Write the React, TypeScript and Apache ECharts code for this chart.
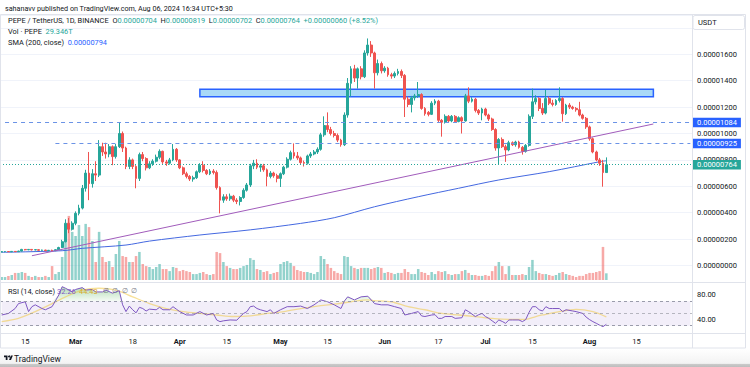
import React, { useEffect, useRef } from "react";
import * as echarts from "echarts";

const FONT = "Roboto, 'Noto Sans', sans-serif";
const FIRST_DAY = "2024-02-08";
const AXIS_DAYS = 206; // Feb 8 .. Sep 1 (right empty margin)

// Daily candles, prices in micro-USDT (x 1e-6): [open, close, low, high]
const candles: number[][] = [
  // Feb 8 - Feb 17
  [1.02,1.05,1.00,1.07],[1.05,1.06,1.03,1.09],[1.06,1.04,1.02,1.08],[1.04,1.07,1.03,1.09],[1.07,1.05,1.03,1.10],
  [1.05,1.09,1.04,1.12],[1.09,1.22,1.07,1.26],[1.22,1.19,1.15,1.25],[1.19,1.22,1.16,1.25],[1.22,1.18,1.14,1.24],
  [1.18,1.20,1.15,1.23],[1.20,1.15,1.12,1.22],[1.15,1.17,1.12,1.20],[1.17,1.12,1.09,1.19],[1.12,1.15,1.10,1.18],
  [1.15,1.12,1.08,1.20],[1.12,1.20,1.10,1.24],[1.20,1.36,1.18,1.42],[1.36,1.80,1.32,1.95],[1.80,3.20,1.75,3.50],
  [3.20,2.75,2.45,3.60],[2.75,3.20,2.65,3.35],
  // Mar
  [3.20,3.95,3.05,4.10],[3.95,4.35,3.80,4.60],[4.35,5.85,4.25,6.10],
  [5.85,7.00,5.60,7.25],[7.00,6.20,4.95,8.60],[6.20,6.95,5.90,7.30],[6.95,6.85,6.40,7.90],[6.85,9.00,6.70,9.50],
  [9.00,8.60,8.30,9.30],[8.60,8.45,8.10,9.30],[8.45,9.00,8.20,9.20],[9.00,8.25,7.60,9.10],[8.25,9.00,8.10,9.20],
  [9.00,10.00,8.90,10.84],[10.00,8.90,8.60,10.15],[8.90,7.50,7.30,9.00],[7.50,8.00,7.30,8.20],[8.00,7.50,7.30,8.10],
  [7.50,6.60,5.85,7.60],[6.60,8.40,6.40,8.55],[8.40,8.10,7.90,8.60],[8.10,7.40,7.20,8.20],[7.40,7.70,7.30,7.90],
  [7.70,7.90,7.55,8.05],[7.90,8.20,7.80,8.40],[8.20,8.65,8.05,8.80],[8.65,7.85,7.70,8.70],[7.85,7.75,7.55,8.00],
  [7.75,8.00,7.65,8.15],[8.00,8.80,7.90,9.20],[8.80,8.00,7.85,8.90],
  // Apr
  [8.00,7.40,7.30,8.05],[7.40,6.95,6.85,7.50],
  [6.95,6.75,6.60,7.10],[6.75,6.55,6.40,6.85],[6.55,6.65,6.35,6.80],[6.65,7.10,6.55,7.20],[7.10,7.60,7.00,7.75],
  [7.60,7.20,7.05,7.90],[7.20,6.95,6.85,7.30],[6.95,7.15,6.85,7.30],[7.15,7.05,6.90,7.30],[7.05,5.90,5.75,7.20],
  [5.90,4.95,3.95,6.00],[4.95,5.20,4.75,5.40],[5.20,5.05,4.90,5.40],[5.05,5.25,4.90,5.45],[5.25,4.95,4.80,5.35],
  [4.95,4.85,4.65,5.10],[4.85,5.15,4.55,5.25],[5.15,5.70,5.05,5.85],[5.70,6.10,5.60,6.25],[6.10,7.55,5.95,7.70],
  [7.55,7.75,7.30,8.00],[7.75,7.45,7.30,8.05],[7.45,7.55,7.10,7.70],[7.55,7.25,7.10,7.70],[7.25,6.75,6.00,7.35],
  [6.75,7.00,6.60,7.15],[7.00,6.80,6.65,7.10],[6.80,6.60,6.30,6.95],
  // May
  [6.60,6.95,5.95,7.05],[6.95,7.45,6.85,7.55],
  [7.45,8.05,7.35,8.20],[8.05,8.55,7.95,8.70],[8.55,8.30,8.10,9.25],[8.30,8.15,8.00,8.60],[8.15,7.80,7.65,8.25],
  [7.80,7.75,7.50,7.95],[7.75,8.30,7.65,8.40],[8.30,8.45,8.15,8.60],[8.45,8.60,8.35,8.75],[8.60,8.80,8.45,8.95],
  [8.80,9.90,8.70,10.05],[9.90,10.60,9.75,11.30],[10.60,10.30,10.10,11.60],[10.30,10.00,9.85,10.50],[10.00,9.85,9.70,10.20],
  [9.85,9.50,9.35,10.00],[9.50,9.15,9.00,9.60],[9.15,11.40,9.05,11.60],[11.40,13.80,11.20,14.20],[13.80,14.90,12.80,15.10],
  [14.90,14.20,13.90,15.20],[14.20,14.90,13.40,15.00],[14.90,14.30,14.10,15.10],[14.30,16.10,14.20,16.30],[16.10,16.70,15.90,17.20],
  [16.70,16.10,15.80,17.00],[16.10,14.60,13.40,16.20],[14.60,15.30,14.40,15.60],[15.30,14.75,14.55,15.45],
  // Jun
  [14.75,14.95,14.60,15.10],
  [14.95,14.45,14.30,15.05],[14.45,14.35,14.15,14.60],[14.35,14.55,14.20,14.70],[14.55,14.70,14.40,14.90],[14.70,14.40,14.20,14.85],
  [14.40,12.60,11.25,14.50],[12.60,12.20,12.00,12.80],[12.20,12.70,11.60,12.85],[12.70,12.85,12.50,13.00],[12.85,12.95,12.70,13.90],
  [12.95,11.90,11.80,13.05],[11.90,11.50,11.35,12.00],[11.60,11.45,11.30,11.70],[11.45,12.30,11.40,12.45],[12.30,12.45,12.15,12.60],
  [12.45,11.00,10.85,12.55],[11.00,10.85,9.76,11.10],[10.85,11.30,10.75,11.45],[11.30,10.95,10.85,11.40],[10.95,11.30,10.85,11.40],
  [11.30,10.90,10.80,11.40],[10.90,11.20,10.85,11.30],[11.20,10.95,10.00,11.30],[10.95,12.85,10.90,13.00],[12.85,12.45,12.30,13.50],
  [12.45,12.60,12.35,12.75],[12.60,11.75,11.60,12.70],[11.75,11.55,11.40,11.85],[11.55,11.85,11.00,11.95],
  // Jul
  [11.85,11.40,11.30,11.95],
  [11.40,11.10,10.95,11.50],[11.10,10.30,10.20,11.20],[10.30,8.90,8.70,10.40],[8.90,9.55,7.65,9.65],[9.55,9.00,8.90,9.70],
  [9.00,8.75,7.85,9.15],[8.75,9.30,8.65,9.45],[9.30,9.15,9.05,9.40],[9.15,9.35,9.00,9.45],[9.35,8.95,8.85,9.45],
  [8.95,8.65,8.40,9.05],[8.65,9.10,8.55,9.20],[9.10,11.30,9.00,11.45],[11.30,12.40,11.10,13.40],[12.40,12.65,12.20,12.90],
  [12.65,11.90,11.70,12.75],[11.90,11.55,11.40,12.30],[11.55,12.65,11.45,13.30],[12.65,12.30,12.15,12.80],[12.30,12.20,12.05,12.55],
  [12.20,12.50,12.10,12.60],[12.50,12.65,12.35,13.50],[12.65,11.50,10.90,12.75],[11.50,12.15,11.40,12.25],[12.15,12.00,11.85,12.30],
  [12.00,11.90,11.80,12.10],[11.90,11.80,11.65,12.00],[11.80,11.40,11.30,12.40],[11.40,11.15,11.05,11.50],[11.15,10.50,10.35,11.25],
  // Aug
  [10.50,9.60,9.45,10.60],[9.60,8.60,8.50,9.70],[8.60,8.00,7.90,8.70],[8.00,7.75,7.55,8.15],[7.75,7.04,5.97,8.00],
  [7.04,7.64,7.02,8.19],
];

// Daily volume in trillions of PEPE
const volumesT: number[] = [
  13,13,18,22,31,31,35,31,18,13, 18,13,13,18,13,61,26,35,101,171,
  281,211,193,241,193,246,232,171,79,211, 101,79,83,57,114,171,105,101,79,79,
  105,123,70,61,57,48,57,70,48,48, 39,57,53,39,44,39,35,26,26,31,
  35,26,22,26,123,118,79,61,53,48, 48,53,61,66,96,88,48,44,35,39,
  26,31,35,70,79,83,75,61,44,39, 35,35,31,26,35,105,92,70,53,39,
  31,26,105,101,61,53,48,53,53,53, 48,53,57,53,31,35,31,26,31,31,
  48,35,26,26,48,35,31,22,35,26, 39,35,39,26,22,26,26,39,44,31,
  22,22,18,18,22,18,39,61,79,61, 26,61,22,22,22,26,22,57,88,39,
  31,26,26,22,18,22,31,35,26,22, 18,13,18,18,26,31,31,35,39,145,
  29.346,
];

// SMA(200) read at points: [day offset from Feb 8, micro-USDT]
const sma200Points: number[][] = [
  [0,1.00],[18,1.12],[24,1.30],[37,1.55],[44,1.85],[59,2.31],[74,2.70],[89,3.19],[99,3.62],
  [111,4.45],[124,5.21],[136,5.85],[148,6.48],[163,7.11],[178,7.86],[180,7.94],
];

// RSI(14) read at points: [day offset, value]
const rsiPoints: number[][] = [
  [0,47.5],[2,50],[4,58],[5,66],[7,69],[8,53],[9,61],[10,64],[12,58],[13,56],[15,61],[17,80],[18,93.5],[19,91],
  [21,85],[22,89],[24,92],[25,88],[27,89],[28,85],[30,85],[31,88],[33,83],[34,85],[35,87],[36,64],[37,53],[38,62],
  [39,56],[40,51],[41,60],[42,58],[43,54],[44,57],[46,56],[47,60],[48,56],[50,56],[51,61],[52,57],[53,53],[55,47.5],
  [57,47.5],[59,53],[61,47.5],[63,50],[64,39.4],[65,36.7],[66,38],[68,39.4],[70,39],[71,45],[72,50],[73,53],[74,61],
  [75,62],[76,58],[77,56],[79,53],[80,56],[81,50],[83,56],[85,61],[87,61],[89,62],[91,58],[93,64],[95,72],[97,69],
  [99,64],[101,58],[102,70],[103,77],[105,72],[107,77],[109,78],[111,66],[113,64],[115,64],[117,61],[119,58],
  [120,47.5],[122,50],[124,53],[125,46],[126,45],[128,47.5],[129,48],[130,42],[131,42],[132,45],[134,45],[135,42],
  [137,43],[138,56],[139,53],[141,45],[142,48],[143,50],[144,45],[145,42],[146,38],[147,34],[148,39.4],[149,37],
  [150,34],[151,39.4],[152,39.4],[154,39.4],[155,36.7],[156,40],[157,52],[158,61],[159,61],[160,56],[161,54],
  [162,61],[163,58],[164,58],[166,58],[167,53],[168,56],[170,54],[171,53],[173,50],[174,44],[175,40],[176,36.7],
  [177,34],[178,31],[179,28.6],[180,32.26],
];

// RSI-based MA read at points: [day offset, value]
const rsiMaPoints: number[][] = [
  [0,36.7],[5,42],[10,53],[15,66],[19,77],[24,88],[29,91],[34,88],[39,77],[44,66],[49,58],[54,53],[59,50],
  [64,47.5],[69,45],[74,46],[79,50],[84,53],[89,58],[94,62],[99,65],[104,69],[109,72],[111,71],[116,69],
  [121,61],[126,56],[131,50],[136,47.5],[141,45],[146,42],[151,40.5],[156,40.5],[159,45],[161,47.5],
  [166,53],[171,56.7],[176,53],[180,44.43],
];

const priceTicks = [0, 2, 4, 6, 8, 10, 12, 14, 16];
const rsiTicks = [40, 80];
const rsiBands = [70, 50, 30];
const timeTicks = ["2024-02-15","2024-03-01","2024-03-18","2024-04-01","2024-04-15","2024-05-01","2024-05-15",
  "2024-06-01","2024-06-17","2024-07-01","2024-07-15","2024-08-01","2024-08-15"];
const timeTickLabels = ["15","Mar","18","Apr","15","May","15","Jun","17","Jul","15","Aug","15"];

// Drawings
const levelHigh = { value: 10.84, fromDay: 1 };
const levelMid = { value: 9.25, fromDay: 16 };
const zone = { fromDay: 59, toDay: 194, low: 12.79, high: 13.35 };
const trend = { fromDay: 9, fromValue: 0.74, toDay: 194, toValue: 10.72 };

const PRICE_MIN = -1.25;
const PRICE_MAX = 18.977;
const RSI_MIN = 18.21;
const RSI_MAX = 99.51;

const UP = "#26a69a";
const DOWN = "#ef5350";
const INK = "#131722";
const CLEAR = "rgba(0,0,0,0)";
const FS = 7.4;

echarts.graphic.registerShape(
  "tvLogo",
  echarts.graphic.extendPath("M14 22H7V11H0V4h14v18z M28 22h-8l7.5-18h8L28 22z", {})
);

function buildDays(start: string, n: number): string[] {
  const base = new Date(start + "T00:00:00Z").getTime();
  const out: string[] = [];
  for (let i = 0; i < n; i++) out.push(new Date(base + i * 86400000).toISOString().slice(0, 10));
  return out;
}

const fmtP = (v: number) => (v * 1e-6).toFixed(8);

export default function App() {
  const ref = useRef<HTMLDivElement>(null);
  useEffect(() => {
    document.body.style.margin = "0";
    if (!ref.current) return;
    const chart = echarts.init(ref.current, undefined, { renderer: "svg" });
    const days = buildDays(FIRST_DAY, AXIS_DAYS);
    const lastDay = days[AXIS_DAYS - 1];
    const last = candles[candles.length - 1];
    const prev = candles[candles.length - 2];
    const chg = last[1] - prev[1];
    const pct = (chg / prev[1]) * 100;

    const tag = (bg: string, v: number) => ({
      show: true,
      position: "end",
      distance: 1,
      formatter: fmtP(v),
      backgroundColor: bg,
      color: "#fff",
      fontSize: 7.5,
      fontFamily: FONT,
      lineHeight: 8,
      padding: [1, 4, 0.5, 4],
    });

    const tickSet = new Set(timeTicks);
    const txt = (size: number, fill: string, extra: any = {}) => ({ fontSize: size, fontFamily: FONT, fill, color: fill, ...extra });

    const rsiLast = rsiPoints[rsiPoints.length - 1][1].toFixed(2);
    const maLast = rsiMaPoints[rsiMaPoints.length - 1][1].toFixed(2);

    const option: any = {
      animation: false,
      textStyle: { fontFamily: FONT },
      grid: [
        { left: 0, right: 58, top: 15, height: 267 },
        { left: 0, right: 58, top: 150, height: 130 },
        { left: 0, right: 58, top: 283, height: 50 },
      ],
      xAxis: [0, 1, 2].map((g) => ({
        type: "category",
        gridIndex: g,
        data: days,
        boundaryGap: true,
        axisLine: { show: false },
        axisTick: { show: false },
        splitLine: { show: false },
        axisLabel:
          g === 2
            ? {
                show: true,
                margin: 4,
                fontSize: 7.5,
                color: INK,
                interval: (_i: number, v: string) => tickSet.has(v),
                formatter: (v: string) => {
                  const k = timeTicks.indexOf(v);
                  if (k < 0) return "";
                  const t = timeTickLabels[k];
                  return /^\d+$/.test(t) ? t : `{b|${t}}`;
                },
                rich: { b: { fontWeight: "bold", fontSize: 7.5, color: INK, fontFamily: FONT } },
              }
            : { show: false },
      })),
      yAxis: [
        {
          type: "value",
          gridIndex: 0,
          position: "right",
          min: PRICE_MIN,
          max: PRICE_MAX,
          splitNumber: 10,
          axisLine: { show: false },
          axisTick: { show: false },
          axisLabel: {
            margin: 5,
            fontSize: 7.5,
            color: INK,
            formatter: (v: number) => {
              const r = Math.round(v);
              return Math.abs(v - r) < 1e-6 && priceTicks.includes(r) ? fmtP(r) : "";
            },
          },
          splitLine: { lineStyle: { color: "#f0f3fa", width: 1 } },
        },
        { type: "value", gridIndex: 1, min: 0, max: 570, show: false, splitLine: { show: false } },
        {
          type: "value",
          gridIndex: 2,
          position: "right",
          min: RSI_MIN,
          max: RSI_MAX,
          splitNumber: 4,
          axisLine: { show: false },
          axisTick: { show: false },
          splitLine: { show: false },
          axisLabel: {
            margin: 5,
            fontSize: 7.5,
            color: INK,
            formatter: (v: number) => {
              const r = Math.round(v);
              return Math.abs(v - r) < 1e-6 && rsiTicks.includes(r) ? r.toFixed(2) : "";
            },
          },
        },
      ],
      series: [
        {
          type: "bar",
          xAxisIndex: 1,
          yAxisIndex: 1,
          barWidth: "75%",
          z: 1,
          data: volumesT.map((v, i) => ({
            value: v,
            itemStyle: { color: candles[i][1] >= candles[i][0] ? "rgba(38,166,154,0.5)" : "rgba(239,83,80,0.5)" },
          })),
        },
        {
          type: "line",
          xAxisIndex: 0,
          yAxisIndex: 0,
          showSymbol: false,
          smooth: 0.3,
          z: 3,
          lineStyle: { color: "#4468e0", width: 1 },
          data: sma200Points.map(([d, v]) => [days[d], v]),
        },
        {
          type: "candlestick",
          xAxisIndex: 0,
          yAxisIndex: 0,
          barWidth: "70%",
          z: 4,
          itemStyle: { color: UP, color0: DOWN, borderColor: UP, borderColor0: DOWN, borderWidth: 1 },
          data: candles.map((c) => [c[0], c[1], c[2], c[3]]),
          markArea: {
            silent: true,
            itemStyle: { color: "rgba(41,160,235,0.40)", borderColor: "#2962ff", borderWidth: 1.5 },
            data: [[{ xAxis: days[zone.fromDay], yAxis: zone.high }, { xAxis: days[zone.toDay], yAxis: zone.low }]],
          },
          markLine: {
            silent: true,
            symbol: ["none", "none"],
            animation: false,
            data: [
              [
                { coord: [days[trend.fromDay], trend.fromValue], lineStyle: { color: "#a15cbb", width: 1, type: "solid" }, label: { show: false } },
                { coord: [days[trend.toDay], trend.toValue] },
              ],
              [
                { coord: [days[levelHigh.fromDay], levelHigh.value], lineStyle: { color: "#6b93e6", width: 1, type: [4, 4] }, label: { show: false } },
                { coord: [lastDay, levelHigh.value] },
              ],
              [
                { coord: [days[levelMid.fromDay], levelMid.value], lineStyle: { color: "#6b93e6", width: 1, type: [4, 4] }, label: { show: false } },
                { coord: [lastDay, levelMid.value] },
              ],
              { yAxis: levelHigh.value, lineStyle: { color: CLEAR, width: 1 }, label: tag("#2962ff", levelHigh.value) },
              { yAxis: levelMid.value, lineStyle: { color: CLEAR, width: 1 }, label: tag("#2962ff", levelMid.value) },
              { yAxis: last[1], lineStyle: { color: UP, width: 1, type: [1, 2] }, label: tag(UP, last[1]) },
            ],
          },
        },
        {
          type: "line",
          xAxisIndex: 2,
          yAxisIndex: 2,
          showSymbol: false,
          z: 2,
          lineStyle: { width: 0 },
          areaStyle: {
            origin: 70,
            color: new echarts.graphic.LinearGradient(0, 0, 0, 1, [
              { offset: 0, color: "rgba(76,175,80,0.6)" },
              { offset: 1, color: "rgba(76,175,80,0.08)" },
            ]),
          },
          data: rsiPoints.map(([d, v]) => [days[d], Math.max(v, 70)]),
        },
        {
          type: "line",
          xAxisIndex: 2,
          yAxisIndex: 2,
          showSymbol: false,
          z: 3,
          smooth: 0.3,
          lineStyle: { color: "rgba(240,200,70,0.55)", width: 1.3 },
          data: rsiMaPoints.map(([d, v]) => [days[d], v]),
        },
        {
          type: "line",
          xAxisIndex: 2,
          yAxisIndex: 2,
          showSymbol: false,
          z: 4,
          lineStyle: { color: "#7e57c2", width: 1 },
          data: rsiPoints.map(([d, v]) => [days[d], v]),
          markArea: {
            silent: true,
            itemStyle: { color: "rgba(126,87,194,0.1)" },
            data: [[{ xAxis: days[0], yAxis: rsiBands[2] }, { xAxis: lastDay, yAxis: rsiBands[0] }]],
          },
          markLine: {
            silent: true,
            symbol: ["none", "none"],
            label: { show: false },
            data: rsiBands.map((b) => ({
              yAxis: b,
              lineStyle: { color: b === 50 ? "rgba(120,123,134,0.5)" : "#9a9cab", width: 1, type: [3, 3] },
            })),
          },
        },
      ],
      graphic: [
        { type: "rect", z: 50, silent: true, shape: { x: 0.5, y: 14.5, width: 745, height: 333.5 }, style: { fill: "none", stroke: "#e0e3eb", lineWidth: 1 } },
        { type: "line", z: 50, silent: true, shape: { x1: 0, y1: 282.5, x2: 745, y2: 282.5 }, style: { stroke: "#e0e3eb", lineWidth: 1 } },
        { type: "line", z: 50, silent: true, shape: { x1: 0, y1: 333.5, x2: 745, y2: 333.5 }, style: { stroke: "#e0e3eb", lineWidth: 1 } },
        { type: "line", z: 50, silent: true, shape: { x1: 692.5, y1: 14, x2: 692.5, y2: 348 }, style: { stroke: "#e0e3eb", lineWidth: 1 } },
        { type: "rect", z: 51, silent: true, shape: { x: 693, y: 15.5, width: 51.5, height: 14, r: 2 }, style: { fill: "#fff", stroke: "#e0e3eb", lineWidth: 1 } },
        { type: "text", z: 52, silent: true, style: { text: "USDT", x: 698, y: 22.5, verticalAlign: "middle", ...txt(7.5, INK) } },
        {
          type: "text", z: 52, silent: true,
          style: { text: "sahanavv published on TradingView.com, Aug 06, 2024 16:34 UTC+5:30", x: 5, y: 8.5, verticalAlign: "middle", ...txt(7.2, INK) },
        },
        {
          type: "text", z: 52, silent: true,
          style: {
            x: 8, y: 20.5, verticalAlign: "middle", ...txt(FS, INK),
            text: `{d|PEPE / TetherUS, 1D, BINANCE}  {d|O}{g|${fmtP(last[0])}}  {d|H}{g|${fmtP(last[3])}}  {d|L}{g|${fmtP(last[2])}}  {d|C}{g|${fmtP(last[1])}}  {g|${chg >= 0 ? "+" : ""}${fmtP(chg)} (${chg >= 0 ? "+" : ""}${pct.toFixed(2)}%)}`,
            rich: { d: txt(FS, INK), g: txt(FS, UP) },
          },
        },
        {
          type: "text", z: 52, silent: true,
          style: {
            x: 8, y: 31.5, verticalAlign: "middle", ...txt(FS, INK),
            text: `{d|Vol · PEPE}  {g|${volumesT[volumesT.length - 1].toFixed(3)}T}`,
            rich: { d: txt(FS, INK), g: txt(FS, UP) },
          },
        },
        {
          type: "text", z: 52, silent: true,
          style: {
            x: 8, y: 42.5, verticalAlign: "middle", ...txt(FS, INK),
            text: `{d|SMA (200, close)}  {b|${fmtP(sma200Points[sma200Points.length - 1][1])}}`,
            rich: { d: txt(FS, INK), b: txt(FS, "#2962ff") },
          },
        },
        { type: "text", z: 60, silent: true, style: { text: "RSI (14, close)", x: 8, y: 291, verticalAlign: "middle", ...txt(FS, INK) } },
        { type: "text", z: 60, silent: true, style: { text: rsiLast, x: 57, y: 291, verticalAlign: "middle", ...txt(FS, "#7e57c2") } },
        { type: "text", z: 60, silent: true, style: { text: maLast, x: 79, y: 291, verticalAlign: "middle", ...txt(FS, "#d9a92a") } },
        { type: "text", z: 60, silent: true, style: { text: "∅  ∅  ∅  ∅", x: 103, y: 291, verticalAlign: "middle", ...txt(7, "#787b86") } },
        { type: "tvLogo", z: 52, silent: true, x: 4, y: 354.5, scaleX: 0.25, scaleY: 0.25, style: { fill: INK } },
        { type: "circle", z: 52, silent: true, shape: { cx: 9, cy: 356.5, r: 1 }, style: { fill: INK } },
        { type: "text", z: 52, silent: true, style: { text: "TradingView", x: 14, y: 358.5, verticalAlign: "middle", ...txt(8.5, INK) } },
        {
          type: "rect", z: 40, silent: true, shape: { x: 0, y: 349, width: 750, height: 18 },
          style: {
            fill: new echarts.graphic.LinearGradient(0, 0, 0, 1, [
              { offset: 0, color: "#ffffff" },
              { offset: 0.8, color: "#f3f3f3" },
              { offset: 0.85, color: "#c9c9c9" },
              { offset: 1, color: "#bdbdbd" },
            ]),
          },
        },
      ],
    };
    chart.setOption(option);
    return () => chart.dispose();
  }, []);
  return <div ref={ref} style={{ width: 750, height: 367, background: "#fff" }} />;
}
